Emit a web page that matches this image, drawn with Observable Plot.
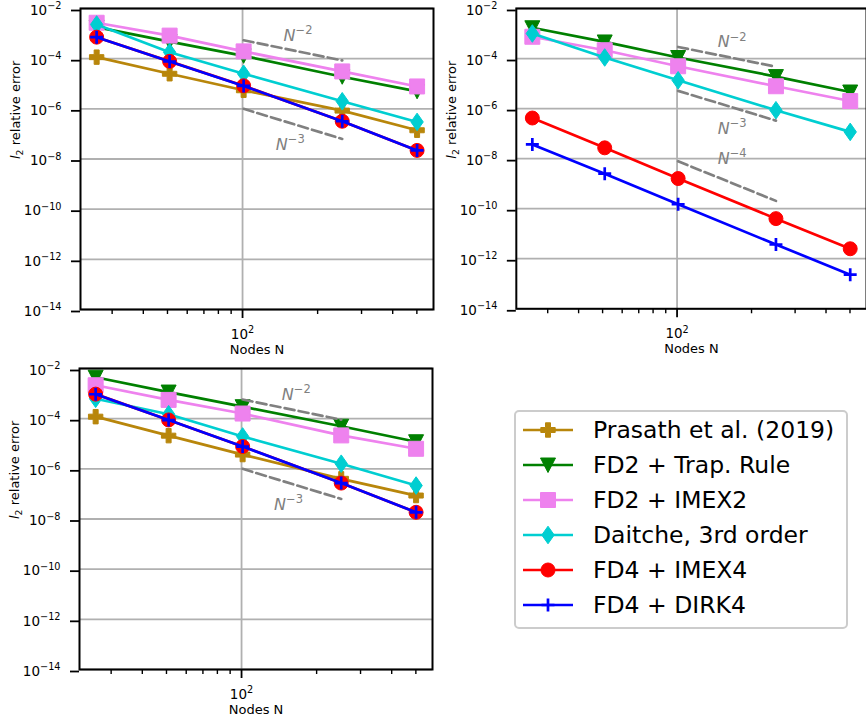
<!DOCTYPE html>
<html><head><meta charset="utf-8">
<script src="https://cdn.jsdelivr.net/npm/d3@7"></script>
<script src="https://cdn.jsdelivr.net/npm/@observablehq/plot@0.6"></script>
<style>
html,body{margin:0;padding:0;background:#fff;}
body{width:866px;height:722px;overflow:hidden;position:relative;font-family:"DejaVu Sans",sans-serif;}
.panel{position:absolute;}
#legend{position:absolute;left:514px;top:410px;width:334px;height:219px;box-sizing:border-box;border:2px solid #cccccc;border-radius:5px;background:#fff;}
</style></head><body>
<div id="p1" class="panel" style="left:0;top:0"></div>
<div id="p2" class="panel" style="left:436px;top:0"></div>
<div id="p3" class="panel" style="left:0;top:360px"></div>
<div id="legend"></div>
<script>
// ---------- data ----------
const nodes = [26, 51, 101, 251, 501];
const methods = ["Prasath et al. (2019)", "FD2 + Trap. Rule", "FD2 + IMEX2", "Daitche, 3rd order", "FD4 + IMEX4", "FD4 + DIRK4"];
const colors = ["#b8860b", "#008000", "#ee82ee", "#00ced1", "#ff0000", "#0000ff"];
const markerNames = ["plusFilled", "triangleDown", "square", "thinDiamond", "circle", "plus"];

// panel A (top left), one row per method, values at nodes
const errA = [
  [1.15e-4, 2.5e-5, 5.5e-6, 8.5e-7, 1.4e-7],
  [1.8e-3, 4.8e-4, 1.3e-4, 1.9e-5, 5.0e-6],
  [2.7e-3, 8.3e-4, 1.95e-4, 3.1e-5, 7.8e-6],
  [2.3e-3, 1.8e-4, 2.5e-5, 2.0e-6, 3.0e-7],
  [7.2e-4, 7.8e-5, 8.3e-6, 3.2e-7, 2.2e-8],
  [7.2e-4, 7.7e-5, 8.2e-6, 3.2e-7, 2.2e-8]
];
// panel B (top right)
const errB = [
  [null, null, null, null, null],
  [1.7e-3, 4.6e-4, 1.1e-4, 1.9e-5, 4.6e-6],
  [7.4e-4, 2.15e-4, 4.9e-5, 7.8e-6, 2.0e-6],
  [1.0e-3, 1.1e-4, 1.35e-5, 8.6e-7, 1.17e-7],
  [4.2e-7, 2.7e-8, 1.6e-9, 4.0e-11, 2.5e-12],
  [3.7e-8, 2.5e-9, 1.5e-10, 3.7e-12, 2.3e-13]
];
// panel C (bottom left)
const errC = [
  [1.2e-4, 2.1e-5, 3.7e-6, 4.0e-7, 8.6e-8],
  [4.5e-3, 1.15e-3, 3.0e-4, 5.0e-5, 1.2e-5],
  [2.15e-3, 5.6e-4, 1.6e-4, 2.15e-5, 6.3e-6],
  [6.2e-4, 1.5e-4, 1.95e-5, 1.6e-6, 2.15e-7],
  [9.5e-4, 8.9e-5, 7.8e-6, 2.7e-7, 1.85e-8],
  [9.4e-4, 8.8e-5, 7.7e-6, 2.7e-7, 1.85e-8]
];

// reference slopes (dashed), endpoints at refNodes
const refNodes = [101, 251];
const refA = [[5.4e-4, 8.5e-5], [1.0e-6, 6.3e-8]];
const refB = [[2.9e-4, 4.7e-5], [5.1e-6, 3.3e-7], [7.8e-9, 2.05e-10]];
const refC = [[5.8e-4, 9.1e-5], [1.0e-6, 6.3e-8]];

// slope labels
const labA_text = ["N^−2", "N^−3"], labA_n = [146, 136], labA_e = [8.3e-4, 3.6e-8];
const labB_text = ["N^−2", "N^−3", "N^−4"], labB_n = [146, 146, 146], labB_e = [4.5e-4, 1.6e-7, 9.7e-9];
const labC_text = ["N^−2", "N^−3"], labC_n = [145, 135], labC_e = [9.1e-4, 3.6e-8];

const yTicks = [1e-14, 1e-12, 1e-10, 1e-8, 1e-6, 1e-4, 1e-2];
const xMajor = [100];
const xMinor = [30, 40, 50, 60, 70, 80, 90, 200, 300, 400, 500];
const xLabel = "Nodes N";
const yLabel = "l_2 relative error";

// ---------- marker shapes ----------
const sym = {
  circle: {draw(c) { c.moveTo(7, 0); c.arc(0, 0, 7, 0, 2 * Math.PI); c.closePath(); }},
  square: {draw(c) { c.moveTo(-7.5, -7.5); c.lineTo(7.5, -7.5); c.lineTo(7.5, 7.5); c.lineTo(-7.5, 7.5); c.closePath(); }},
  triangleDown: {draw(c) { c.moveTo(-7.5, -7); c.lineTo(7.5, -7); c.lineTo(0, 7.5); c.closePath(); }},
  thinDiamond: {draw(c) { c.moveTo(0, -8.8); c.lineTo(6.2, 0); c.lineTo(0, 8.8); c.lineTo(-6.2, 0); c.closePath(); }},
  plusFilled: {draw(c) { const a = 7.2, b = 2.5;
    c.moveTo(-b, -a); c.lineTo(b, -a); c.lineTo(b, -b); c.lineTo(a, -b); c.lineTo(a, b); c.lineTo(b, b);
    c.lineTo(b, a); c.lineTo(-b, a); c.lineTo(-b, b); c.lineTo(-a, b); c.lineTo(-a, -b); c.lineTo(-b, -b); c.closePath(); }},
  plus: {draw(c) { c.moveTo(-6.5, 0); c.lineTo(6.5, 0); c.moveTo(0, -6.5); c.lineTo(0, 6.5); }}
};

function richify(svg) {
  d3.select(svg).selectAll("text").each(function () {
    const t = this.textContent;
    const sel = d3.select(this);
    if (t.includes("^")) {
      const [b, e] = t.split("^");
      sel.text(null);
      const bt = sel.append("tspan").text(b);
      if (b === "N") bt.attr("font-style", "italic");
      sel.append("tspan").attr("font-size", "72%").attr("dy", "-0.58em").text(e);
    } else if (t.includes("_")) {
      const [b, rest] = t.split("_");
      const sub = rest[0], tail = rest.slice(1);
      sel.text(null);
      sel.append("tspan").attr("font-style", "italic").text(b);
      sel.append("tspan").attr("font-size", "72%").attr("dy", "0.35em").text(sub);
      sel.append("tspan").attr("dy", "-0.252em").text(tail);
    }
  });
}

const expFmt = d => "10^" + String(Math.round(Math.log10(d))).replace("-", "−");

function makePanel(el, errs, refs, labT, labN, labE, dims) {
  const data = [];
  errs.forEach((arr, i) => arr.forEach((e, j) => { if (e != null) data.push({s: i, n: nodes[j], e}); }));
  const refData = [];
  refs.forEach((arr, k) => arr.forEach((e, j) => refData.push({k, n: refNodes[j], e})));
  const labData = labT.map((t, i) => ({t, n: labN[i], e: labE[i]}));
  const marks = [
    Plot.gridY(yTicks, {stroke: "#b0b0b0", strokeOpacity: 1, strokeWidth: 1.8}),
    Plot.gridX(xMajor, {stroke: "#b0b0b0", strokeOpacity: 1, strokeWidth: 1.8})
  ];
  for (let i = 0; i < errs.length; i++) {
    const sd = data.filter(d => d.s === i);
    if (!sd.length) continue;
    marks.push(Plot.line(sd, {x: "n", y: "e", stroke: colors[i], strokeWidth: 2.7}));
    const isPlus = markerNames[i] === "plus";
    marks.push(Plot.dot(sd, {x: "n", y: "e", r: 7, symbol: sym[markerNames[i]],
      fill: isPlus ? "none" : colors[i], stroke: colors[i], strokeWidth: isPlus ? 2.7 : 1}));
  }
  marks.push(Plot.line(refData, {x: "n", y: "e", z: "k", stroke: "#808080", strokeWidth: 2.7, strokeDasharray: "10,4.3"}));
  marks.push(Plot.text(labData, {x: "n", y: "e", text: "t", textAnchor: "start", fill: "#808080", fontSize: 16}));
  marks.push(Plot.axisY(yTicks, {tickSize: 9, tickPadding: 10, tickFormat: expFmt, fontSize: 13.5, strokeWidth: 1.8, label: null, dy: 2}));
  marks.push(Plot.axisX(xMajor, {tickSize: 9, tickPadding: 11, tickFormat: expFmt, fontSize: 13.5, strokeWidth: 1.8, label: null}));
  marks.push(Plot.axisX(xMinor, {tickSize: 5, tickFormat: () => "", strokeWidth: 1.4, label: null}));
  marks.push(Plot.text([xLabel], {frameAnchor: "bottom", dy: 44, text: d => d, fontSize: 13}));
  marks.push(Plot.text([yLabel], {frameAnchor: "left", rotate: -90, dx: -65, text: d => d, fontSize: 13}));
  marks.push(Plot.frame({stroke: "black", strokeWidth: 2}));
  const svg = Plot.plot({
    width: dims.width, height: dims.height,
    marginLeft: dims.ml, marginRight: dims.mr, marginTop: dims.mt, marginBottom: dims.mb,
    x: {type: "log", domain: [22.4, 583], label: null},
    y: {type: "log", domain: [1e-14, 1e-2], label: null},
    style: {fontFamily: "DejaVu Sans", fontSize: "13px", background: "transparent", overflow: "visible", color: "black"},
    marks
  });
  richify(svg);
  document.getElementById(el).appendChild(svg);
}

makePanel("p1", errA, refA, labA_text, labA_n, labA_e, {width: 440, height: 360, ml: 80, mr: 7, mt: 8, mb: 51});
makePanel("p2", errB, refB, labB_text, labB_n, labB_e, {width: 431, height: 360, ml: 80, mr: 0, mt: 8, mb: 51});
makePanel("p3", errC, refC, labC_text, labC_n, labC_e, {width: 440, height: 362, ml: 79, mr: 8, mt: 8, mb: 53});

// ---------- legend ----------
const leg = d3.select("#legend").append("svg").attr("width", 330).attr("height", 215)
  .style("position", "absolute").style("left", "0px").style("top", "0px");
methods.forEach((m, i) => {
  const cy = 18 + 35 * i;
  const g = leg.append("g");
  g.append("line").attr("x1", 7).attr("x2", 57).attr("y1", cy).attr("y2", cy)
    .attr("stroke", colors[i]).attr("stroke-width", 2.7);
  const isPlus = markerNames[i] === "plus";
  g.append("path").attr("transform", `translate(32,${cy})`)
    .attr("d", d3.symbol(sym[markerNames[i]], 100)())
    .attr("fill", isPlus ? "none" : colors[i]).attr("stroke", colors[i]).attr("stroke-width", isPlus ? 2.7 : 1);
  g.append("text").attr("x", 77).attr("y", cy).attr("dy", "0.36em")
    .attr("font-family", "DejaVu Sans").attr("font-size", 23.5).attr("fill", "black").text(m);
});
</script>
</body></html>
